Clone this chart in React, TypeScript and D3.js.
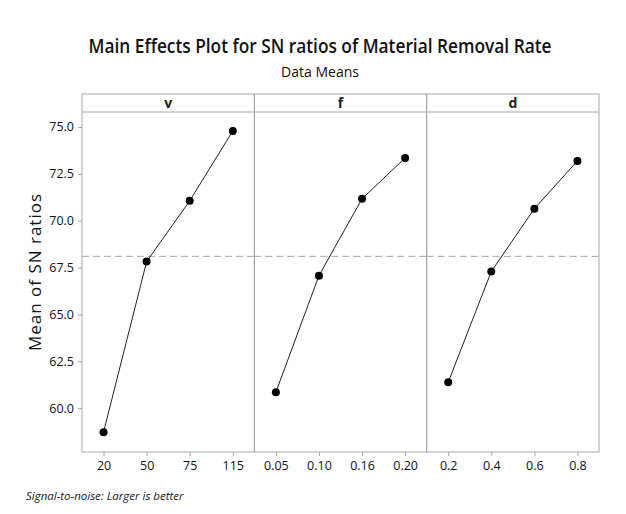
import React, { useEffect, useRef } from "react";
import * as d3 from "d3";

const factors = ["v", "f", "d"];
const levelsV = ["20", "50", "75", "115"];
const levelsF = ["0.05", "0.10", "0.16", "0.20"];
const levelsD = ["0.2", "0.4", "0.6", "0.8"];
const snV = [58.72, 67.82, 71.06, 74.79];
const snF = [60.85, 67.07, 71.17, 73.35];
const snD = [61.38, 67.29, 70.64, 73.19];
const yTicks = [60.0, 62.5, 65.0, 67.5, 70.0, 72.5, 75.0];

export default function App() {
  const ref = useRef<SVGSVGElement>(null);

  useEffect(() => {
    const svg = d3.select(ref.current);
    svg.selectAll("*").remove();
    const font = "'Open Sans', sans-serif";

    const left = 82, right = 599, top = 94, stripH = 18, bottom = 452;
    const panelW = (right - left) / 3;

    const grand = d3.mean(snV) as number;
    const y = d3.scaleLinear().domain([57.66, 75.8]).range([bottom, top + stripH]);

    svg.append("text").attr("x", 320).attr("y", 53).attr("text-anchor", "middle")
      .attr("font-family", font).attr("font-size", 19.5).attr("font-weight", 600).attr("fill", "#111")
      .attr("textLength", 463).attr("lengthAdjust", "spacingAndGlyphs")
      .text("Main Effects Plot for SN ratios of Material Removal Rate");
    svg.append("text").attr("x", 320).attr("y", 77).attr("text-anchor", "middle")
      .attr("font-family", font).attr("font-size", 14).attr("fill", "#111")
      .text("Data Means");

    const panels = [
      { name: factors[0], levels: levelsV, vals: snV },
      { name: factors[1], levels: levelsF, vals: snF },
      { name: factors[2], levels: levelsD, vals: snD },
    ];

    panels.forEach((p, i) => {
      const x0 = left + i * panelW;
      const x = d3.scalePoint<string>().domain(p.levels).range([x0, x0 + panelW]).padding(0.5);
      const g = svg.append("g");
      g.append("rect").attr("x", x0).attr("y", top).attr("width", panelW).attr("height", bottom - top)
        .attr("fill", "none").attr("stroke", "#a8a8a8").attr("stroke-width", 1);
      g.append("line").attr("x1", x0).attr("x2", x0 + panelW).attr("y1", top + stripH).attr("y2", top + stripH)
        .attr("stroke", "#a8a8a8");
      g.append("text").attr("x", x0 + panelW / 2).attr("y", top + 14).attr("text-anchor", "middle")
        .attr("font-family", font).attr("font-weight", "bold").attr("font-size", 14).attr("fill", "#222")
        .text(p.name);

      const ax = g.append("g").attr("transform", `translate(0,${bottom})`)
        .call(d3.axisBottom(x).tickSize(4).tickPadding(5));
      ax.select(".domain").remove();
      ax.selectAll("line").attr("stroke", "#a8a8a8");
      ax.selectAll("text").attr("font-family", font).attr("font-size", 12.5).attr("fill", "#111");

      g.append("line").attr("x1", x0).attr("x2", x0 + panelW).attr("y1", y(grand)).attr("y2", y(grand))
        .attr("stroke", "#a8a8a8").attr("stroke-dasharray", "7,4");

      const line = d3.line<number>().x((_, j) => x(p.levels[j]) as number).y(d => y(d));
      g.append("path").attr("d", line(p.vals)).attr("fill", "none").attr("stroke", "#222").attr("stroke-width", 1);
      g.selectAll("circle").data(p.vals).join("circle")
        .attr("cx", (_, j) => x(p.levels[j]) as number).attr("cy", d => y(d)).attr("r", 4).attr("fill", "#000");
    });

    const ay = svg.append("g").attr("transform", `translate(${left},0)`)
      .call(d3.axisLeft(y).tickValues(yTicks).tickFormat(d3.format(".1f")).tickSize(4).tickPadding(4));
    ay.select(".domain").remove();
    ay.selectAll("line").attr("stroke", "#a8a8a8");
    ay.selectAll("text").attr("font-family", font).attr("font-size", 12.5).attr("fill", "#111");

    svg.append("text").attr("transform", `translate(41,${(top + bottom) / 2 - 1}) rotate(-90)`)
      .attr("text-anchor", "middle").attr("font-family", font).attr("font-size", 17).attr("fill", "#111")
      .attr("letter-spacing", 1)
      .text("Mean of SN ratios");

    svg.append("text").attr("x", 26).attr("y", 500).attr("font-family", font).attr("font-style", "italic")
      .attr("font-size", 11.5).attr("fill", "#222")
      .text("Signal-to-noise: Larger is better");
  }, []);

  return <svg ref={ref} width={626} height={514} style={{ position: "absolute", left: 0, top: 0 }} />;
}
